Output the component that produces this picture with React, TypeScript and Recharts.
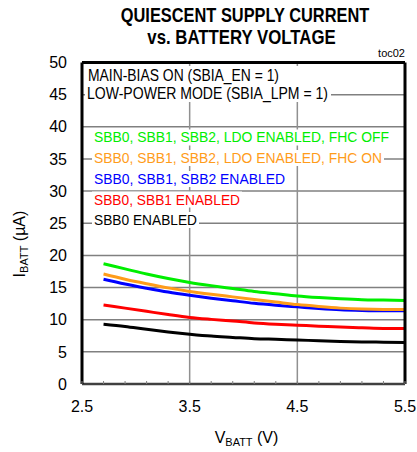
import { LineChart, Line, XAxis, YAxis, CartesianGrid, ReferenceLine } from "recharts";

// supply current (uA) vs battery voltage (V)
const volts = [2.7, 2.9, 3.1, 3.3, 3.5, 3.7, 3.9, 4.1, 4.3, 4.5, 4.7, 4.9, 5.1, 5.3, 5.5];
const fhcOff = [18.7, 17.9, 17.1, 16.4, 15.8, 15.3, 14.85, 14.4, 14.05, 13.7, 13.45, 13.25, 13.1, 13.05, 13.0];
const fhcOn = [17.1, 16.3, 15.6, 14.95, 14.4, 13.95, 13.55, 13.15, 12.75, 12.35, 12.05, 11.8, 11.65, 11.6, 11.6];
const sbb012 = [16.3, 15.55, 14.9, 14.3, 13.8, 13.35, 12.95, 12.55, 12.25, 12.0, 11.75, 11.55, 11.45, 11.4, 11.4];
const sbb01 = [12.3, 11.8, 11.3, 10.8, 10.35, 10.05, 9.8, 9.5, 9.3, 9.15, 9.0, 8.85, 8.75, 8.65, 8.65];
const sbb0 = [9.3, 8.95, 8.5, 8.1, 7.75, 7.45, 7.25, 7.05, 6.95, 6.85, 6.72, 6.62, 6.55, 6.5, 6.45];

const xTicks = [2.5, 2.7, 2.9, 3.1, 3.3, 3.5, 3.7, 3.9, 4.1, 4.3, 4.5, 4.7, 4.9, 5.1, 5.3, 5.5];
const xLabels = [2.5, 3.5, 4.5, 5.5];
const xGrid = [3.5, 4.5];
const yTicks = [0, 5, 10, 15, 20, 25, 30, 35, 40, 45, 50];

const data = volts.map((v, i) => ({
  v,
  fhcOff: fhcOff[i],
  fhcOn: fhcOn[i],
  sbb012: sbb012[i],
  sbb01: sbb01[i],
  sbb0: sbb0[i],
}));

const FONT = "'Liberation Sans Narrow', 'Arial Narrow', 'Liberation Sans', Arial, sans-serif";
const GREEN = "#00ee00";
const ORANGE = "#ff9c1a";
const BLUE = "#0000ff";
const RED = "#ff0000";

function XTick(props: any) {
  const { x, y, payload } = props;
  const major = xLabels.includes(payload.value);
  return (
    <g>
      <line x1={x} x2={x} y1={y} y2={y - 3} stroke="#808080" strokeWidth={1} />
      {major && (
        <text x={x} y={y + 27.5} textAnchor="middle" fontSize={16} fontFamily={FONT} fill="#000">
          {payload.value.toFixed(1)}
        </text>
      )}
    </g>
  );
}

function Note({ x, y, w, color, children, size = 15 }: any) {
  return (
    <text
      x={x}
      y={y}
      fill={color}
      fontSize={size}
      fontFamily={FONT}
      textLength={w}
      lengthAdjust="spacingAndGlyphs"
    >
      {children}
    </text>
  );
}

export default function App() {
  return (
    <div style={{ position: "absolute", left: 0, top: 0, width: 417, height: 452, background: "#fff" }}>
      <LineChart
        width={417}
        height={452}
        data={data}
        margin={{ top: 62.5, right: 12, bottom: 38, left: 0 }}
      >
        <CartesianGrid vertical={false} stroke="#808080" strokeWidth={1.5} />
        <XAxis
          dataKey="v"
          type="number"
          domain={[2.5, 5.5]}
          ticks={xTicks}
          interval={0}
          height={30}
          tickSize={0}
          tickMargin={0}
          tickLine={false}
          tick={<XTick />}
          axisLine={{ stroke: "#404040", strokeWidth: 2.5 }}
        />
        <YAxis
          type="number"
          domain={[0, 50]}
          ticks={yTicks}
          interval={0}
          width={82}
          tickSize={0}
          tickMargin={15}
          tickLine={false}
          axisLine={{ stroke: "#000", strokeWidth: 3 }}
          tick={{ fill: "#000", fontSize: 16, fontFamily: FONT }}
        />
        {xGrid.map((g) => (
          <ReferenceLine key={g} x={g} stroke="#909090" strokeWidth={1.5} />
        ))}
        <Line dataKey="sbb0" stroke="#000" strokeWidth={3} dot={false} type="monotone" isAnimationActive={false} />
        <Line dataKey="sbb01" stroke={RED} strokeWidth={3} dot={false} type="monotone" isAnimationActive={false} />
        <Line dataKey="sbb012" stroke={BLUE} strokeWidth={3} dot={false} type="monotone" isAnimationActive={false} />
        <Line dataKey="fhcOn" stroke={ORANGE} strokeWidth={3} dot={false} type="monotone" isAnimationActive={false} />
        <Line dataKey="fhcOff" stroke={GREEN} strokeWidth={3} dot={false} type="monotone" isAnimationActive={false} />
        <ReferenceLine y={50} stroke="#000" strokeWidth={3} />
        <ReferenceLine x={5.5} stroke="#000" strokeWidth={3} />
      </LineChart>

      <svg
        width={417}
        height={452}
        style={{ position: "absolute", left: 0, top: 0, pointerEvents: "none" }}
      >
        {/* title, squeezed to the narrow face of the original */}
        <g transform="translate(245,21.8) scale(0.82,1)">
          <text x={0} y={0} textAnchor="middle" fontSize={20} fontWeight="bold" fontFamily={FONT}>
            QUIESCENT SUPPLY CURRENT
          </text>
        </g>
        <g transform="translate(241.5,44.2) scale(0.84,1)">
          <text x={0} y={0} textAnchor="middle" fontSize={20} fontWeight="bold" fontFamily={FONT}>
            vs. BATTERY VOLTAGE
          </text>
        </g>
        <text x={405} y={57} textAnchor="end" fontSize={11} fontFamily={FONT}>toc02</text>

        {/* boxed notes over the grid */}
        <rect x={85} y={66} width={246} height={36} fill="#fff" />
        <Note x={88} y={81} w={191} color="#000" size={16}>MAIN-BIAS ON (SBIA_EN = 1)</Note>
        <Note x={87} y={99} w={241} color="#000" size={16}>LOW-POWER MODE (SBIA_LPM = 1)</Note>

        <rect x={92} y={129.5} width={299} height={16} fill="#fff" />
        <rect x={92} y={150} width={292} height={16} fill="#fff" />
        <rect x={92} y={171} width={195} height={16} fill="#fff" />
        <rect x={92} y={191.5} width={150} height={16} fill="#fff" />
        <rect x={92} y={212} width={107} height={16} fill="#fff" />
        <Note x={94} y={141.5} w={295} color={GREEN}>SBB0, SBB1, SBB2, LDO ENABLED, FHC OFF</Note>
        <Note x={94} y={162.5} w={288} color={ORANGE}>SBB0, SBB1, SBB2, LDO ENABLED, FHC ON</Note>
        <Note x={94} y={183.5} w={191} color={BLUE}>SBB0, SBB1, SBB2 ENABLED</Note>
        <Note x={94} y={204.5} w={146} color={RED}>SBB0, SBB1 ENABLED</Note>
        <Note x={94} y={225} w={103} color="#000">SBB0 ENABLED</Note>

        {/* axis titles */}
        <text x={246.5} y={443} textAnchor="middle" fontSize={16} fontFamily={FONT}>
          V<tspan fontSize={11} dy={3}>BATT</tspan>
          <tspan dy={-3}> (V)</tspan>
        </text>
        <text transform="translate(24.5,244) rotate(-90)" textAnchor="middle" fontSize={16} fontFamily={FONT}>
          I<tspan fontSize={11} dy={3}>BATT</tspan>
          <tspan dy={-3}> (µA)</tspan>
        </text>
      </svg>
    </div>
  );
}
